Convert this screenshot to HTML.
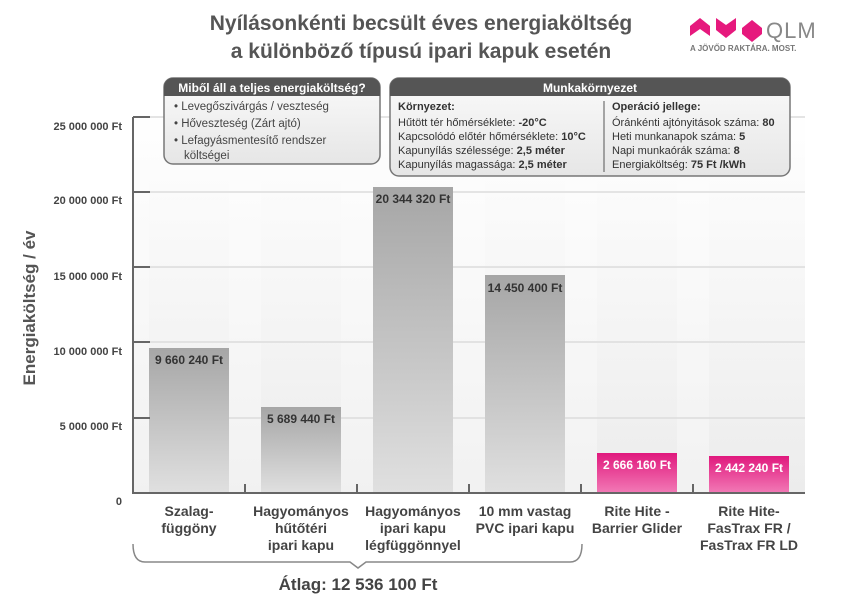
<!DOCTYPE html>
<html><head><meta charset="utf-8"><style>
html,body{margin:0;padding:0;background:#fff;}
svg{display:block;font-family:"Liberation Sans","DejaVu Sans",sans-serif;}
</style></head><body>
<svg width="848" height="601" viewBox="0 0 848 601" xmlns="http://www.w3.org/2000/svg">
<defs>
<linearGradient id="bg" x1="0" y1="0" x2="0" y2="1"><stop offset="0" stop-color="#fff"/><stop offset="1" stop-color="#ececec"/></linearGradient>
<linearGradient id="gb" x1="0" y1="0" x2="0" y2="1"><stop offset="0" stop-color="#a6a6a6"/><stop offset="1" stop-color="#e0e0e0"/></linearGradient>
<linearGradient id="pb" x1="0" y1="0" x2="0" y2="1"><stop offset="0" stop-color="#e0197d"/><stop offset="1" stop-color="#f27ab6"/></linearGradient>
<linearGradient id="box" x1="0" y1="0" x2="0" y2="1"><stop offset="0" stop-color="#fafafa"/><stop offset="1" stop-color="#e6e6e6"/></linearGradient>
</defs>
<rect x="133" y="110" width="672" height="383" fill="url(#bg)"/>
<g fill="#ffffff" opacity="0.3"><rect x="133" y="110" width="16" height="383"/><rect x="229" y="110" width="32" height="383"/><rect x="341" y="110" width="32" height="383"/><rect x="453" y="110" width="32" height="383"/><rect x="565" y="110" width="32" height="383"/><rect x="677" y="110" width="32" height="383"/></g>
<g stroke="#dcdcdc" stroke-width="1.5"><line x1="133" y1="117" x2="805" y2="117"/><line x1="133" y1="192" x2="805" y2="192"/><line x1="133" y1="267" x2="805" y2="267"/><line x1="133" y1="342" x2="805" y2="342"/><line x1="133" y1="418" x2="805" y2="418"/></g>
<rect x="149" y="348" width="80" height="145" fill="url(#gb)"/>
<rect x="261" y="407" width="80" height="86" fill="url(#gb)"/>
<rect x="373" y="187" width="80" height="306" fill="url(#gb)"/>
<rect x="485" y="275" width="80" height="218" fill="url(#gb)"/>
<rect x="597" y="453" width="80" height="40" fill="url(#pb)"/>
<rect x="709" y="456" width="80" height="37" fill="url(#pb)"/>
<g font-size="12" font-weight="bold" fill="#333" text-anchor="middle">
<text x="189" y="364">9 660 240 Ft</text><text x="301" y="423">5 689 440 Ft</text><text x="413" y="203">20 344 320 Ft</text><text x="525" y="292">14 450 400 Ft</text>
<text x="637" y="469" fill="#fff">2 666 160 Ft</text><text x="749" y="472" fill="#fff">2 442 240 Ft</text></g>
<g stroke="#666" stroke-width="2" fill="none"><line x1="133" y1="117" x2="133" y2="493"/><line x1="132" y1="493" x2="805" y2="493"/>
<line x1="133" y1="117" x2="150" y2="117"/><line x1="133" y1="192" x2="150" y2="192"/><line x1="133" y1="267" x2="150" y2="267"/><line x1="133" y1="342" x2="150" y2="342"/><line x1="133" y1="418" x2="150" y2="418"/>
<line x1="245" y1="484" x2="245" y2="493"/><line x1="357" y1="484" x2="357" y2="493"/><line x1="469" y1="484" x2="469" y2="493"/><line x1="581" y1="484" x2="581" y2="493"/><line x1="693" y1="484" x2="693" y2="493"/></g>
<g font-size="11" font-weight="bold" fill="#444" text-anchor="end"><text x="122" y="130">25 000 000 Ft</text><text x="122" y="204">20 000 000 Ft</text><text x="122" y="280">15 000 000 Ft</text><text x="122" y="355">10 000 000 Ft</text><text x="122" y="430">5 000 000 Ft</text><text x="122" y="505">0</text></g>
<text transform="translate(35,308) rotate(-90)" font-size="17" font-weight="bold" fill="#555" text-anchor="middle">Energiaköltség / év</text>
<g font-size="14" font-weight="bold" fill="#444" text-anchor="middle">
<text x="189" y="516">Szalag-</text><text x="189" y="533">függöny</text>
<text x="301" y="516">Hagyományos</text><text x="301" y="533">hűtőtéri</text><text x="301" y="550">ipari kapu</text>
<text x="413" y="516">Hagyományos</text><text x="413" y="533">ipari kapu</text><text x="413" y="550">légfüggönnyel</text>
<text x="525" y="516">10 mm vastag</text><text x="525" y="533">PVC ipari kapu</text>
<text x="637" y="516">Rite Hite -</text><text x="637" y="533">Barrier Glider</text>
<text x="749" y="516">Rite Hite-</text><text x="749" y="533">FasTrax FR /</text><text x="749" y="550">FasTrax FR LD</text></g>
<path d="M133,544 Q133,562 145,562 L350,562 L358,568 L366,562 L570,562 Q582,562 582,544" fill="none" stroke="#888" stroke-width="1.5"/>
<text x="358" y="590" font-size="17" font-weight="bold" fill="#444" text-anchor="middle">Átlag: 12 536 100 Ft</text>
<g font-size="21" font-weight="bold" fill="#555" text-anchor="middle"><text x="421" y="30">Nyílásonkénti becsült éves energiaköltség</text><text x="421" y="58">a különböző típusú ipari kapuk esetén</text></g>
<!-- logo -->
<g fill="#e6197d"><path d="M690,26 l10,-8 l10,8 v10 l-10,-7 l-10,7z"/><path d="M716,18 l10,7 l10,-7 v12 l-10,8 l-10,-8z"/><path d="M742,28 l10,-8 l10,8 v6 l-10,8 l-10,-8z"/></g>
<text x="766" y="38" font-size="22" fill="#888" letter-spacing="1">QLM</text>
<text x="690" y="51" font-size="8" font-weight="bold" fill="#777">A JÖVŐD RAKTÁRA. MOST.</text>
<!-- box 1 -->
<rect x="164" y="78" width="216" height="86" rx="9" fill="url(#box)" stroke="#777" stroke-width="1.5"/>
<path d="M164,87 a9,9 0 0 1 9,-9 h198 a9,9 0 0 1 9,9 v9 h-216z" fill="#555"/>
<text x="272" y="92" font-size="12" font-weight="bold" fill="#fff" text-anchor="middle">Miből áll a teljes energiaköltség?</text>
<g font-size="11.5" fill="#444"><text x="174" y="110">• Levegőszivárgás / veszteség</text><text x="174" y="127">• Hőveszteség  (Zárt ajtó)</text><text x="174" y="144">• Lefagyásmentesítő rendszer</text><text x="184" y="159">költségei</text></g>
<!-- box 2 -->
<rect x="390" y="78" width="400" height="98" rx="9" fill="url(#box)" stroke="#777" stroke-width="1.5"/>
<path d="M390,87 a9,9 0 0 1 9,-9 h382 a9,9 0 0 1 9,9 v9 h-400z" fill="#555"/>
<text x="590" y="92" font-size="12" font-weight="bold" fill="#fff" text-anchor="middle">Munkakörnyezet</text>
<line x1="604" y1="101" x2="604" y2="172" stroke="#555" stroke-width="1"/>
<g font-size="11" fill="#333">
<text x="398" y="110" font-weight="bold">Környezet:</text>
<text x="398" y="126">Hűtött tér hőmérséklete: <tspan font-weight="bold">-20°C</tspan></text>
<text x="398" y="140">Kapcsolódó előtér hőmérséklete: <tspan font-weight="bold">10°C</tspan></text>
<text x="398" y="154">Kapunyílás szélessége: <tspan font-weight="bold">2,5 méter</tspan></text>
<text x="398" y="168">Kapunyílás magassága: <tspan font-weight="bold">2,5 méter</tspan></text>
<text x="612" y="110" font-weight="bold">Operáció jellege:</text>
<text x="612" y="126">Óránkénti ajtónyitások száma: <tspan font-weight="bold">80</tspan></text>
<text x="612" y="140">Heti munkanapok száma: <tspan font-weight="bold">5</tspan></text>
<text x="612" y="154">Napi munkaórák száma: <tspan font-weight="bold">8</tspan></text>
<text x="612" y="168">Energiaköltség: <tspan font-weight="bold">75 Ft /kWh</tspan></text></g>
</svg>
</body></html>
